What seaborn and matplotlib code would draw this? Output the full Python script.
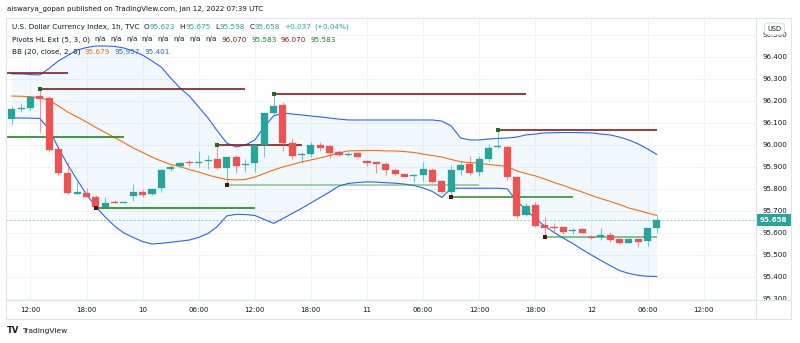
import numpy as np
import pandas as pd
import matplotlib
matplotlib.use("Agg")
import matplotlib.pyplot as plt
import matplotlib.transforms as mtransforms
from matplotlib.lines import Line2D
from matplotlib.patches import Rectangle
import seaborn as sns

# ---------------- data ----------------
opens = [96.117, 96.163, 96.167, 96.222, 96.213, 95.980, 95.874, 95.780, 95.783, 95.765,
         95.719, 95.741, 95.738, 95.769, 95.787, 95.775, 95.803, 95.889, 95.904, 95.924,
         95.920, 95.930, 95.936, 95.897, 95.944, 95.910, 95.917, 96.000, 96.144, 96.182,
         96.008, 95.955, 95.959, 96.000, 95.995, 95.969, 95.955, 95.965, 95.928, 95.924,
         95.912, 95.886, 95.868, 95.858, 95.863, 95.886, 95.836, 95.787, 95.886, 95.913,
         95.876, 95.936, 95.990, 95.992, 95.853, 95.681, 95.727, 95.636, 95.625, 95.625,
         95.608, 95.616, 95.582, 95.580, 95.590, 95.572, 95.555, 95.572, 95.564, 95.623]
highs = [96.178, 96.190, 96.225, 96.256, 96.223, 95.980, 95.924, 95.833, 95.803, 95.772,
         95.762, 95.750, 95.742, 95.821, 95.800, 95.805, 95.890, 95.910, 95.924, 95.930,
         95.973, 95.954, 96.000, 95.947, 95.954, 95.936, 96.000, 96.149, 96.232, 96.195,
         96.031, 95.969, 96.015, 96.015, 96.000, 95.975, 95.969, 95.970, 95.930, 95.926,
         95.924, 95.890, 95.870, 95.868, 95.924, 95.894, 95.840, 95.909, 95.928, 95.950,
         95.950, 96.005, 96.070, 95.995, 95.858, 95.734, 95.742, 95.672, 95.643, 95.628,
         95.620, 95.620, 95.590, 95.620, 95.605, 95.575, 95.575, 95.575, 95.620, 95.675]
lows = [96.091, 96.152, 96.160, 96.053, 95.969, 95.863, 95.777, 95.778, 95.762, 95.712,
        95.716, 95.735, 95.736, 95.746, 95.762, 95.773, 95.787, 95.880, 95.895, 95.905,
        95.898, 95.889, 95.890, 95.818, 95.871, 95.877, 95.878, 95.947, 96.140, 95.974,
        95.936, 95.917, 95.944, 95.974, 95.939, 95.950, 95.951, 95.945, 95.906, 95.871,
        95.863, 95.862, 95.852, 95.830, 95.836, 95.826, 95.780, 95.764, 95.863, 95.863,
        95.860, 95.924, 95.985, 95.840, 95.666, 95.677, 95.628, 95.583, 95.605, 95.595,
        95.595, 95.598, 95.572, 95.567, 95.560, 95.548, 95.552, 95.534, 95.541, 95.598]
closes = [96.163, 96.167, 96.220, 96.210, 95.977, 95.871, 95.780, 95.783, 95.765, 95.719,
          95.734, 95.738, 95.740, 95.787, 95.772, 95.798, 95.886, 95.901, 95.919, 95.917,
          95.923, 95.932, 95.894, 95.944, 95.904, 95.913, 96.000, 96.144, 96.178, 96.008,
          95.951, 95.959, 96.000, 95.988, 95.962, 95.954, 95.959, 95.947, 95.917, 95.912,
          95.886, 95.867, 95.856, 95.860, 95.889, 95.830, 95.785, 95.886, 95.909, 95.874,
          95.936, 95.985, 95.995, 95.853, 95.678, 95.722, 95.631, 95.621, 95.624, 95.605,
          95.611, 95.600, 95.579, 95.590, 95.567, 95.552, 95.570, 95.560, 95.620, 95.658]

bb_upper = [96.324, 96.324, 96.321, 96.319, 96.349, 96.383, 96.408, 96.433, 96.444, 96.451,
            96.451, 96.449, 96.442, 96.428, 96.410, 96.383, 96.355, 96.305, 96.260, 96.223,
            96.173, 96.123, 96.064, 96.009, 95.991, 96.000, 96.023, 96.082, 96.132, 96.146,
            96.141, 96.137, 96.132, 96.128, 96.123, 96.118, 96.114, 96.114, 96.114, 96.114,
            96.114, 96.114, 96.114, 96.114, 96.114, 96.114, 96.109, 96.087, 96.032, 96.023,
            96.023, 96.027, 96.030, 96.032, 96.036, 96.046, 96.050, 96.055, 96.056, 96.057,
            96.057, 96.056, 96.055, 96.050, 96.046, 96.036, 96.023, 96.005, 95.982, 95.957]
bb_basis = [96.223, 96.222, 96.220, 96.216, 96.203, 96.178, 96.150, 96.128, 96.105, 96.080,
            96.057, 96.034, 96.011, 95.986, 95.966, 95.945, 95.927, 95.911, 95.902, 95.888,
            95.877, 95.863, 95.852, 95.843, 95.841, 95.843, 95.854, 95.870, 95.886, 95.900,
            95.911, 95.923, 95.932, 95.941, 95.952, 95.964, 95.973, 95.974, 95.975, 95.975,
            95.973, 95.973, 95.970, 95.966, 95.959, 95.952, 95.945, 95.934, 95.924, 95.920,
            95.917, 95.911, 95.907, 95.902, 95.882, 95.870, 95.859, 95.845, 95.829, 95.816,
            95.800, 95.786, 95.770, 95.756, 95.743, 95.729, 95.713, 95.702, 95.690, 95.679]
bb_lower = [96.123, 96.123, 96.122, 96.121, 96.071, 95.986, 95.909, 95.841, 95.775, 95.718,
            95.672, 95.631, 95.599, 95.579, 95.560, 95.549, 95.552, 95.557, 95.562, 95.567,
            95.579, 95.597, 95.629, 95.677, 95.684, 95.683, 95.679, 95.661, 95.643, 95.665,
            95.688, 95.711, 95.736, 95.761, 95.786, 95.813, 95.825, 95.829, 95.832, 95.831,
            95.828, 95.826, 95.822, 95.816, 95.804, 95.788, 95.761, 95.802, 95.803, 95.803,
            95.803, 95.803, 95.803, 95.800, 95.745, 95.704, 95.665, 95.631, 95.601, 95.576,
            95.551, 95.524, 95.499, 95.474, 95.451, 95.428, 95.415, 95.406, 95.402, 95.401]

# pivot high / low levels: price, first bar, last bar
ph_price = [96.327, 96.256, 96.000, 96.232, 96.070]
ph_start = [-1, 3, 22, 28, 52]
ph_end = [6, 25, 31, 55, 69]
pl_price = [96.035, 95.712, 95.818, 95.764, 95.583]
pl_start = [-1, 9, 23, 47, 57]
pl_end = [12, 26, 50, 60, 69]
pl_alpha = [1.0, 1.0, 0.45, 0.9, 0.6]

time_tick_pos = [2, 8, 14, 20, 26, 32, 38, 44, 50, 56, 62, 68, 74]
time_tick_labels = ['12:00', '18:00', '10', '06:00', '12:00', '18:00', '11',
                    '06:00', '12:00', '18:00', '12', '06:00', '12:00']
price_ticks = [95.3, 95.4, 95.5, 95.6, 95.7, 95.8, 95.9, 96.0, 96.1, 96.2, 96.3, 96.4, 96.5]
last_price = 95.658

# ---------------- style ----------------
sns.set_theme(style="white")
plt.rcParams['font.family'] = ['DejaVu Sans']
TXT = '#131722'
UP = '#26a69a'
DN = '#ef5350'
BLUE = '#2962ff'
ORANGE = '#ff6d00'
PH_C = '#8b1a1a'
PL_C = '#1b8a1b'
GRID = '#f0f3fa'
BORDER = '#e0e3eb'
FS = 5.1      # axis numbers
FSL = 5.2     # legend text

W, H = 800, 343
fig = plt.figure(figsize=(8, 3.43), dpi=100)
fig.patch.set_facecolor('white')


def fx(px):
    return px / W


def fy(py):
    return 1 - py / H


y_bot = 96.0 - (300 - 145) / 219.5
y_top = 96.0 + (145 - 18) / 219.5

ax = fig.add_axes([fx(6), fy(300), fx(756) - fx(6), fy(18) - fy(300)])
ax.set_xlim(-0.61, 79.6)
ax.set_ylim(y_bot, y_top)
ax.set_facecolor('white')
for s in ax.spines.values():
    s.set_visible(False)
ax.set_xticks(time_tick_pos)
ax.set_yticks(price_ticks)
ax.grid(True, color=GRID, lw=0.8)
ax.set_axisbelow(True)
ax.tick_params(length=0, labelbottom=False, labelleft=False)

idx = np.arange(len(opens))
o = np.array(opens); h = np.array(highs); l = np.array(lows); c = np.array(closes)

# Bollinger band fill + lines
ax.fill_between(idx, bb_lower, bb_upper, color='#2196f3', alpha=0.055, lw=0, zorder=1)
df = pd.DataFrame({'bar': idx, 'upper': bb_upper, 'basis': bb_basis, 'lower': bb_lower})
sns.lineplot(data=df, x='bar', y='upper', ax=ax, color=BLUE, lw=0.8, legend=False, zorder=5)
sns.lineplot(data=df, x='bar', y='lower', ax=ax, color=BLUE, lw=0.8, legend=False, zorder=5)
sns.lineplot(data=df, x='bar', y='basis', ax=ax, color=ORANGE, lw=0.8, legend=False, zorder=5)
ax.set_xlabel('')
ax.set_ylabel('')

# pivot lines
for p, s0, s1 in zip(ph_price, ph_start, ph_end):
    ax.hlines(p, s0, s1, color=PH_C, lw=1.2, zorder=6)
    if s0 >= 0:
        ax.plot([s0], [p], marker='s', ms=2.2, color='#1f6b1f', mew=0, zorder=9)
for p, s0, s1, a in zip(pl_price, pl_start, pl_end, pl_alpha):
    ax.hlines(p, s0, s1, color=PL_C, lw=1.2, alpha=a, zorder=6)
    if s0 >= 0:
        ax.plot([s0], [p], marker='s', ms=2.2, color='#5a0b0b', mew=0, zorder=9)

# current price dashed line
ax.axhline(last_price, color=UP, ls=(0, (2.5, 2)), lw=0.6, alpha=0.6, zorder=2)

# candles
colors = np.where(c >= o, UP, DN)
ax.vlines(idx, l, h, colors=colors, lw=0.8, alpha=0.6, zorder=7)
body_h = np.maximum(np.abs(c - o), 0.005)
body_b = (o + c) / 2 - body_h / 2
ax.bar(idx, body_h, bottom=body_b, width=0.76, color=colors, edgecolor=colors,
       linewidth=0.2, zorder=8)

# time axis labels
trans = mtransforms.blended_transform_factory(ax.transData, ax.transAxes)
for pos, lab in zip(time_tick_pos, time_tick_labels):
    ax.text(pos, -10 / 282, lab, transform=trans, ha='center', va='center',
            fontsize=FS, color=TXT, clip_on=False)

# price axis
ax_r = fig.add_axes([fx(756), fy(300), fx(791) - fx(756), fy(18) - fy(300)])
ax_r.set_xlim(0, 1)
ax_r.set_ylim(y_bot, y_top)
ax_r.axis('off')
for p in price_ticks:
    ax_r.text(0.53, p, f"{p:.3f}", ha='center', va='center', fontsize=FS,
              color=TXT, clip_on=True)
ax_r.add_patch(Rectangle((0.0, last_price - 0.0275), 0.99, 0.055, facecolor=UP,
                         edgecolor='none', zorder=5, clip_on=False))
ax_r.text(0.5, last_price, f"{last_price:.3f}", ha='center', va='center', fontsize=FS,
          color='white', fontweight='bold', zorder=6)

# USD badge
fig.text(fx(774.5), fy(29), 'USD', ha='center', va='center', fontsize=4.8, color=TXT,
         zorder=20, bbox=dict(boxstyle='round,pad=0.45,rounding_size=0.6', fc='white',
                              ec='#d1d4dc', lw=0.6))

# frame lines
def fline(x0, y0, x1, y1):
    fig.add_artist(Line2D([fx(x0), fx(x1)], [fy(y0), fy(y1)], color=BORDER, lw=0.8,
                          transform=fig.transFigure))

fline(6, 18, 791, 18)
fline(6, 319, 791, 319)
fline(6, 18, 6, 319)
fline(791, 18, 791, 319)
fline(6, 300, 791, 300)
fline(756, 18, 756, 319)

# header
fig.text(fx(7), fy(9), "aiswarya_gopan published on TradingView.com, Jan 12, 2022 07:39 UTC",
         fontsize=5.15, color=TXT, va='center', ha='left')

# legend rows: tokens are chained one after the other using measured widths
renderer = fig.canvas.get_renderer()


def chain(x0, yp, parts):
    x = x0
    for s, col, gap in parts:
        t = fig.text(fx(x), fy(yp), s, fontsize=FSL, color=col, va='center', ha='left',
                     zorder=15)
        bb = t.get_window_extent(renderer)
        x = bb.x1 + gap


G = 4.5
chain(11.7, 26.7, [
    ("U.S. Dollar Currency Index, 1h, TVC", TXT, G),
    ("O", TXT, 0.3), ("95.623", UP, G),
    ("H", TXT, 0.3), ("95.675", UP, G),
    ("L", TXT, 0.3), ("95.598", UP, G),
    ("C", TXT, 0.3), ("95.658", UP, G),
    ("+0.037", UP, 2.5), ("(+0.04%)", UP, 0),
])
chain(11.7, 39.5, [("Pivots HL Ext (5, 3, 0)", TXT, G)] + [("n/a", TXT, G)] * 8 + [
    ("96.070", PH_C, G), ("95.583", PL_C, G), ("96.070", PH_C, G), ("95.583", PL_C, 0)])
chain(11.7, 52.0, [
    ("BB (20, close, 2, 0)", TXT, G),
    ("95.679", ORANGE, G), ("95.957", BLUE, G), ("95.401", BLUE, 0)])

# footer logo
fig.text(fx(7), fy(330.5), "TV", fontsize=6, fontweight='bold', color=TXT, va='center')
fig.text(fx(22), fy(330.5), "TradingView", fontsize=5.4, color=TXT, va='center')

fig.savefig("out.png", dpi=100, facecolor='white')
